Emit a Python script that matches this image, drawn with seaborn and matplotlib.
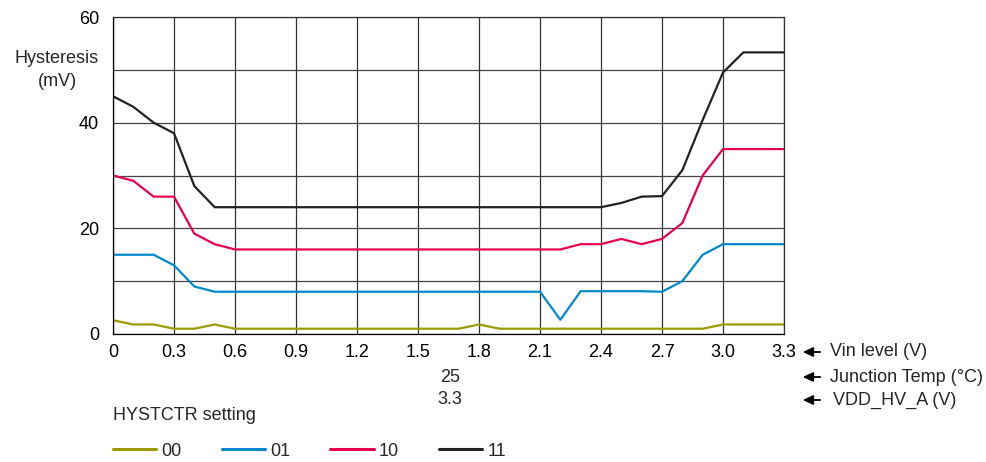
import matplotlib
matplotlib.use("Agg")
import matplotlib.pyplot as plt
import seaborn as sns
import pandas as pd
from matplotlib.ticker import MultipleLocator, FixedLocator
from matplotlib.patches import FancyArrowPatch

vin = [0.0, 0.1, 0.2, 0.3, 0.4, 0.5, 0.6, 0.7, 0.8, 0.9, 1.0, 1.1, 1.2, 1.3, 1.4, 1.5, 1.6,
       1.7, 1.8, 1.9, 2.0, 2.1, 2.2, 2.3, 2.4, 2.5, 2.6, 2.7, 2.8, 2.9, 3.0, 3.1, 3.2, 3.3]

hyst_00 = [2.6, 1.8, 1.8, 1, 1, 1.8, 1, 1, 1, 1, 1, 1, 1, 1, 1, 1, 1,
           1, 1.8, 1, 1, 1, 1, 1, 1, 1, 1, 1, 1, 1, 1.8, 1.8, 1.8, 1.8]
hyst_01 = [15, 15, 15, 13, 9, 8, 8, 8, 8, 8, 8, 8, 8, 8, 8, 8, 8,
           8, 8, 8, 8, 8, 2.7, 8.1, 8.1, 8.1, 8.1, 8, 10, 15, 17, 17, 17, 17]
hyst_10 = [30, 29, 26, 26, 19, 17, 16, 16, 16, 16, 16, 16, 16, 16, 16, 16, 16,
           16, 16, 16, 16, 16, 16, 17, 17, 18, 17, 18, 21, 30, 35, 35, 35, 35]
hyst_11 = [45, 43, 40, 38, 28, 24, 24, 24, 24, 24, 24, 24, 24, 24, 24, 24, 24,
           24, 24, 24, 24, 24, 24, 24, 24, 24.8, 26, 26.1, 31, 40.5, 49.5, 53.3, 53.3, 53.3]

settings = ["00", "01", "10", "11"]
colors = ["#9c9a00", "#0088cc", "#e6004f", "#222222"]
x_ticks = [0, 0.3, 0.6, 0.9, 1.2, 1.5, 1.8, 2.1, 2.4, 2.7, 3.0, 3.3]
x_tick_labels = ["0", "0.3", "0.6", "0.9", "1.2", "1.5", "1.8", "2.1", "2.4", "2.7", "3.0", "3.3"]
y_ticks = [0, 20, 40, 60]
junction_temp = "25"
vdd_hv_a = "3.3"

frames = []
for s, vals in zip(settings, [hyst_00, hyst_01, hyst_10, hyst_11]):
    frames.append(pd.DataFrame({"vin": vin, "hyst": vals, "setting": s}))
df = pd.concat(frames, ignore_index=True)

sns.set_style("white")
plt.rcParams["font.family"] = ["Liberation Sans", "DejaVu Sans"]
FS = 13
plt.rcParams["font.size"] = FS

W, H = 987, 462
fig = plt.figure(figsize=(W / 100, H / 100), dpi=100)
ax = fig.add_axes([113 / W, 1 - 334 / H, (784 - 113) / W, (334 - 17) / H])

sns.lineplot(data=df, x="vin", y="hyst", hue="setting", palette=dict(zip(settings, colors)),
             linewidth=1.6, ax=ax, legend=True)

ax.set_xlim(0, 3.3)
ax.set_ylim(0, 60)
ax.xaxis.set_major_locator(FixedLocator(x_ticks))
ax.set_xticklabels(x_tick_labels)
ax.yaxis.set_major_locator(FixedLocator(y_ticks))
ax.yaxis.set_minor_locator(MultipleLocator(10))
ax.grid(True, which="major", axis="x", color="#333333", linewidth=0.9)
ax.grid(True, which="both", axis="y", color="#444444", linewidth=0.9)
ax.set_axisbelow(True)
for sp in ax.spines.values():
    sp.set_color("#333333")
    sp.set_linewidth(0.9)
ax.spines["left"].set_color("black")
ax.spines["bottom"].set_color("black")
ax.tick_params(axis="both", which="both", length=0, labelsize=FS, colors="black")
ax.tick_params(axis="x", pad=7)
ax.tick_params(axis="y", pad=10)
ax.set_xlabel("")
ax.set_ylabel("")

fig.text(57 / W, 1 - 70 / H, "Hysteresis\n(mV)", ha="center", va="center", fontsize=FS,
         linespacing=1.4)

rows = [(352, 830, "Vin level (V)"), (377, 830, "Junction Temp (°C)"), (400, 833, "VDD_HV_A (V)")]
for y, xt, t in rows:
    fig.text(xt / W, 1 - y / H, t, ha="left", va="center", fontsize=FS)
    arr = FancyArrowPatch((823 / W, 1 - y / H), (800 / W, 1 - y / H),
                          transform=fig.transFigure, arrowstyle="-|>,head_length=6,head_width=2.8",
                          mutation_scale=1, color="black", linewidth=1.3)
    fig.patches.append(arr)
fig.text(450 / W, 1 - 377 / H, junction_temp, ha="center", va="center", fontsize=FS)
fig.text(450 / W, 1 - 400 / H, vdd_hv_a, ha="center", va="center", fontsize=FS)

fig.text(113 / W, 1 - 416 / H, "HYSTCTR setting", ha="left", va="center", fontsize=FS)

handles, labels = ax.get_legend_handles_labels()
ax.get_legend().remove()
leg = fig.legend(handles, labels, loc="center left", bbox_to_anchor=(113 / W, 1 - 451 / H),
                 ncol=4, frameon=False, handlelength=2.4, handletextpad=0.3,
                 columnspacing=2.2, fontsize=FS, borderpad=0, borderaxespad=0)
for h in leg.legend_handles:
    h.set_linewidth(2.2)

fig.savefig("out.png", dpi=100)
